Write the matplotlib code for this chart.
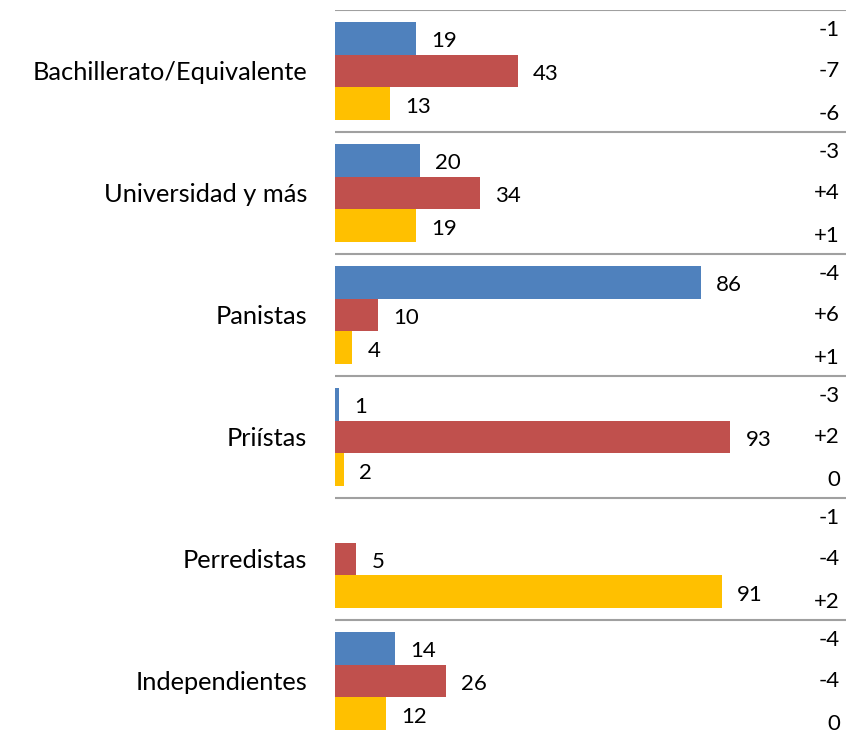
import matplotlib.pyplot as plt
import numpy as np

plt.rcParams['font.family'] = ['Lato', 'DejaVu Sans']

categories = ['Bachillerato/Equivalente', 'Universidad y más', 'Panistas',
              'Priístas', 'Perredistas', 'Independientes']
blue = [19, 20, 86, 1, 0, 14]
red = [43, 34, 10, 93, 5, 26]
yellow = [13, 19, 4, 2, 91, 12]
changes = [['-1', '-7', '-6'],
           ['-3', '+4', '+1'],
           ['-4', '+6', '+1'],
           ['-3', '+2', '0'],
           ['-1', '-4', '+2'],
           ['-4', '-4', '0']]

colors = ['#4F81BD', '#C0504D', '#FFC000']
series = [blue, red, yellow]

fig = plt.figure(figsize=(8.46, 7.39), dpi=100)
ax = fig.add_axes([335 / 846, -3 / 739, 511 / 846, 732 / 739])

n = len(categories)
centers = np.arange(n) + 0.5
bar_h = 0.27
offsets = [-0.27, 0.0, 0.27]

for vals, col, off in zip(series, colors, offsets):
    ys = centers + off
    ax.barh(ys, vals, height=bar_h, color=col, left=0)
    for y, v in zip(ys, vals):
        if v > 0:
            ax.annotate(str(v), (v, y), xytext=(11, -2), textcoords='offset points',
                        ha='left', va='center', fontsize=16)

# change column on the right
chg_off = [0.16, 0.50, 0.85]
for i, grp in enumerate(changes):
    for c, o in zip(grp, chg_off):
        ax.text(0.988, i + o, c, transform=ax.get_yaxis_transform(),
                ha='right', va='center', fontsize=16)

# separator lines
for i in range(n + 1):
    ax.axhline(i, color='#a0a0a0', lw=1.5, xmin=0, xmax=1)

ax.set_xlim(0, 120.2)
ax.set_ylim(n, 0)
ax.set_yticks(centers)
ax.set_yticklabels(categories, fontsize=18.3)
ax.tick_params(axis='y', length=0, pad=20)
ax.set_xticks([])
for s in ax.spines.values():
    s.set_visible(False)

fig.savefig('out.png', dpi=100)
